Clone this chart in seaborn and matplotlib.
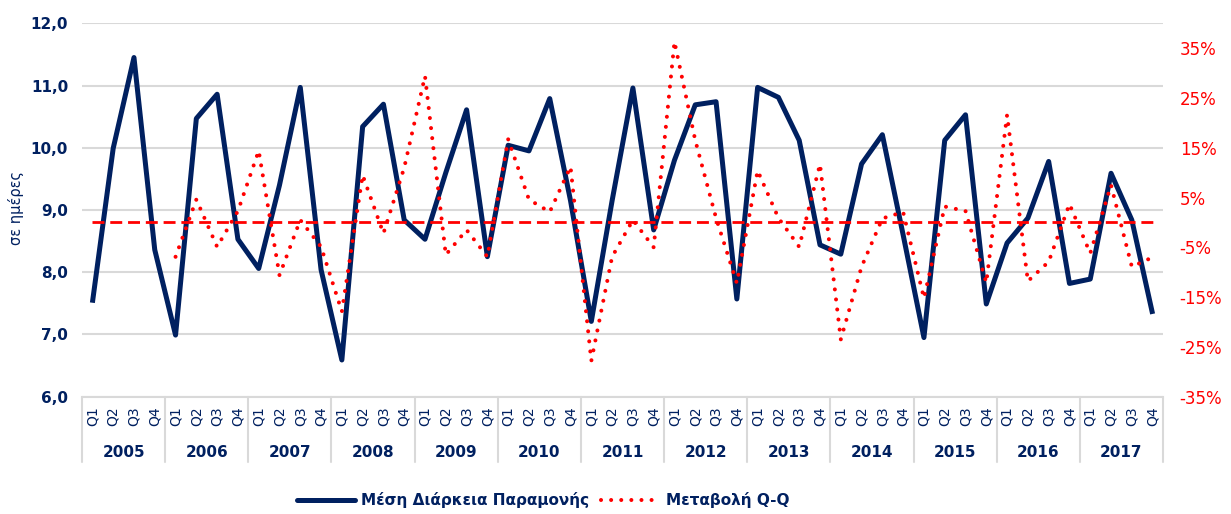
import numpy as np
import pandas as pd
import matplotlib
matplotlib.use("Agg")
import matplotlib.pyplot as plt
import matplotlib.transforms as mtrans
from matplotlib.lines import Line2D
import seaborn as sns

# ---------------- data ----------------
years = [str(y) for y in range(2005, 2018)]
quarters = ["Q1", "Q2", "Q3", "Q4"]

stay_days = [7.51, 9.99, 11.45, 8.36,
             6.99, 10.47, 10.86, 8.53,
             8.06, 9.40, 10.97, 8.04,
             6.59, 10.34, 10.70, 8.84,
             8.53, 9.60, 10.61, 8.25,
             10.04, 9.95, 10.79, 9.15,
             7.21, 9.15, 10.96, 8.68,
             9.80, 10.69, 10.74, 7.57,
             10.97, 10.81, 10.12, 8.44,
             8.29, 9.74, 10.21, 8.60,
             6.95, 10.12, 10.53, 7.49,
             8.47, 8.87, 9.78, 7.82,
             7.89, 9.59, 8.84, 7.33]

qq_change_pct = [np.nan, np.nan, np.nan, np.nan,
                 -6.9, 4.6, -4.9, 2.3,
                 14.4, -10.6, 0.5, -4.9,
                 -17.9, 9.5, -2.2, 11.0,
                 29.4, -6.5, -1.5, -6.9,
                 16.7, 4.6, 2.1, 11.2,
                 -27.8, -6.9, 0.5, -5.0,
                 36.3, 16.5, 0.9, -12.2,
                 10.4, 0.9, -4.9, 11.7,
                 -23.5, -8.9, 0.8, 2.1,
                 -15.2, 3.2, 2.3, -12.1,
                 21.6, -11.8, -7.9, 3.7,
                 -6.2, 7.5, -8.9, -7.0]

series_names = ["Μέση Διάρκεια Παραμονής", "Μεταβολή Q-Q"]
left_ticks = [6, 7, 8, 9, 10, 11, 12]
right_ticks = [-35, -25, -15, -5, 5, 15, 25, 35]
y_label = "σε ημέρες"

# ---------------- style ----------------
NAVY = "#002060"
RED = "#FF0000"
GRID = "#D9D9D9"

sns.set_theme(style="white")
plt.rcParams['font.family'] = ['DejaVu Sans']

period_year = [y for y in years for _ in quarters]
period_q = [q for _ in years for q in quarters]
pos = np.arange(len(period_q))
df = pd.DataFrame({"pos": pos, "year": period_year, "quarter": period_q,
                   "stay": stay_days, "change": qq_change_pct})

W, H = 1231, 514
fig = plt.figure(figsize=(W / 100, H / 100), dpi=100)
ax_left, ax_right, ax_top, ax_bot = 82, 1163, 23.3, 396.7
ax = fig.add_axes([ax_left / W, 1 - ax_bot / H, (ax_right - ax_left) / W, (ax_bot - ax_top) / H])
ax2 = ax.twinx()

sns.lineplot(data=df, x="pos", y="stay", ax=ax, color=NAVY, linewidth=3.6,
             legend=False, solid_joinstyle="round", solid_capstyle="butt", zorder=3)
dot_style = (0, (0.01, 2.5))
sns.lineplot(data=df, x="pos", y="change", ax=ax2, color=RED, linewidth=2.9,
             linestyle=dot_style, dash_capstyle="round", legend=False, zorder=4)
ax2.hlines(0, pos[0], pos[-1], colors=RED, linestyles=[(0, (4.3, 2.1))], linewidth=2.0, zorder=3)

# axes limits
ax.set_xlim(-0.5, len(pos) - 0.5)
ax.set_ylim(left_ticks[0], left_ticks[-1])
ax2.set_ylim(-35, 40)

# left axis
ax.set_yticks(left_ticks)
ax.set_yticklabels([f"{v:.1f}".replace(".", ",") for v in left_ticks],
                   color=NAVY, fontsize=11, fontweight="bold")
ax.tick_params(axis="y", length=0, pad=10)
ax.set_ylabel("")
ax.yaxis.grid(True, color=GRID, linewidth=1.5)
ax.xaxis.grid(False)
ax.set_axisbelow(True)
for s in ["top", "right", "left"]:
    ax.spines[s].set_visible(False)
ax.spines["bottom"].set_color(GRID)
ax.spines["bottom"].set_linewidth(1.5)

# right axis
ax2.set_yticks(right_ticks)
ax2.set_yticklabels([f"{v}%" for v in right_ticks], color=RED, fontsize=12)
ax2.tick_params(axis="y", length=0, pad=12)
ax2.set_ylabel("")
ax2.grid(False)
for s in ax2.spines.values():
    s.set_visible(False)

# x axis: quarters + years
ax.set_xticks(pos)
ax.set_xticklabels(period_q, rotation=90, color=NAVY, fontsize=10)
ax.tick_params(axis="x", length=0, pad=7)
ax.set_xlabel("")

blend = mtrans.blended_transform_factory(ax.transData, ax.transAxes)
nq = len(quarters)
year_y = -(453 - ax_bot) / (ax_bot - ax_top)
sep_y = -(462 - ax_bot) / (ax_bot - ax_top)
for i, yr in enumerate(years):
    center = (i * nq + (i + 1) * nq - 1) / 2
    ax.text(center, year_y, yr, transform=blend, ha="center", va="center",
            color=NAVY, fontsize=11, fontweight="bold")
for i in range(len(years) + 1):
    b = i * nq - 0.5
    ax.plot([b, b], [0, sep_y], transform=blend, color=GRID, linewidth=1.5, clip_on=False)

fig.text(16 / W, 1 - 208 / H, y_label, rotation=90, color=NAVY, fontsize=10.5,
         ha="center", va="center")

# legend
h1 = Line2D([], [], color=NAVY, linewidth=3.6, solid_capstyle="round")
h2 = Line2D([], [], color=RED, linewidth=2.9, linestyle=dot_style, dash_capstyle="round")
fig.legend(handles=[h1, h2], labels=series_names, loc="center",
           bbox_to_anchor=(543 / W, 1 - 500 / H), ncol=2, frameon=False,
           handlelength=3.8, handletextpad=0.4, columnspacing=0.8,
           prop={"weight": "bold", "size": 11}, labelcolor=NAVY)

fig.savefig("out.png", dpi=100)
